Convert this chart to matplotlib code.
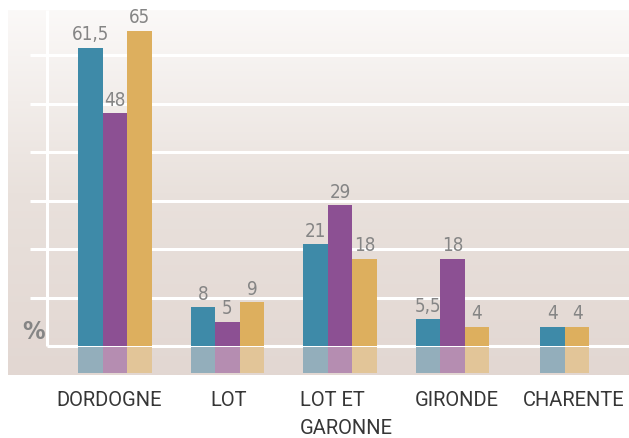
import matplotlib
matplotlib.use("Agg")
import matplotlib.pyplot as plt
import numpy as np
from matplotlib.colors import LinearSegmentedColormap

categories = ["DORDOGNE", "LOT", "LOT ET\nGARONNE", "GIRONDE", "CHARENTE"]
teal_vals = [61.5, 8, 21, 5.5, 4]
purple_vals = [48, 5, 29, 18, None]
gold_vals = [65, 9, 18, 4, 4]
teal_labels = ["61,5", "8", "21", "5,5", "4"]
purple_labels = ["48", "5", "29", "18", None]
gold_labels = ["65", "9", "18", "4", "4"]

teal, purple, gold = "#3e8aa8", "#8c5093", "#ddaf5e"
teal_f, purple_f, gold_f = "#93aebb", "#b58db1", "#e2c598"

W, H = 629, 438
fig = plt.figure(figsize=(W / 100, H / 100), dpi=100)
fig.patch.set_facecolor("white")

# axes panel in pixels: x 8..629, y 10..375
ax = fig.add_axes([8 / W, (H - 375) / H, (629 - 8) / W, (375 - 10) / H])
xl = ((8 - 115) / 112.5, (629 - 115) / 112.5)
pxu = 4.85
yl = (-(375 - 346) / pxu, (346 - 10) / pxu)
ax.set_xlim(*xl)
ax.set_ylim(*yl)
ax.axis("off")

cmap = LinearSegmentedColormap.from_list("bg", ["#e2d7d2", "#e9e1dc", "#fbf9f8"])
grad = np.linspace(0, 1, 256).reshape(-1, 1)
ax.imshow(grad, aspect="auto", cmap=cmap, origin="lower",
          extent=[xl[0], xl[1], yl[0], yl[1]], zorder=0)

# grid lines
gx0 = (30 - 115) / 112.5
vx = (47 - 115) / 112.5
for g in range(10, 70, 10):
    ax.plot([gx0, xl[1]], [g, g], color="white", lw=2.2, zorder=1, solid_capstyle="butt")
ax.plot([vx, xl[1]], [0, 0], color="white", lw=2.2, zorder=1, solid_capstyle="butt")
ax.plot([vx, vx], [0, yl[1]], color="white", lw=2.2, zorder=1, solid_capstyle="butt")

bw = 24.5 / 112.5
refl_top = -0.25
refl_bot = -(373 - 346) / pxu
lab_kw = dict(ha="center", va="bottom", color="#858585", fontsize=13.5,
              family="DejaVu Sans", fontstretch="condensed", zorder=4)

for i in range(len(categories)):
    series = [(teal_vals[i], teal_labels[i], teal, teal_f),
              (purple_vals[i], purple_labels[i], purple, purple_f),
              (gold_vals[i], gold_labels[i], gold, gold_f)]
    present = [s for s in series if s[0] is not None]
    n = len(present)
    for j, (v, lab, c, cf) in enumerate(present):
        x = i + (j - (n - 1) / 2) * bw
        ax.bar(x, v, width=bw, color=c, zorder=3, linewidth=0)
        ax.bar(x, refl_bot - refl_top, bottom=refl_top, width=bw, color=cf, zorder=3, linewidth=0)
        ax.text(x, v + 0.7, lab, **lab_kw)

ax.text((34 - 115) / 112.5, 0.4, "%", ha="center", va="bottom", color="#858585",
        fontsize=18, fontweight="bold", family="DejaVu Sans", fontstretch="condensed")

# category labels (figure pixel coords)
cat_pos = [(109, "center"), (229, "center"), (300, "left"), (457, "center"), (574, "center")]
for (px, ha), name in zip(cat_pos, categories):
    fig.text(px / W, 1 - 391 / H, name, ha=ha, va="top", color="#363636",
             fontsize=14.5, family=["Roboto", "DejaVu Sans"], fontweight="normal",
             linespacing=1.62)

fig.savefig("out.png", dpi=100, facecolor=fig.get_facecolor())
